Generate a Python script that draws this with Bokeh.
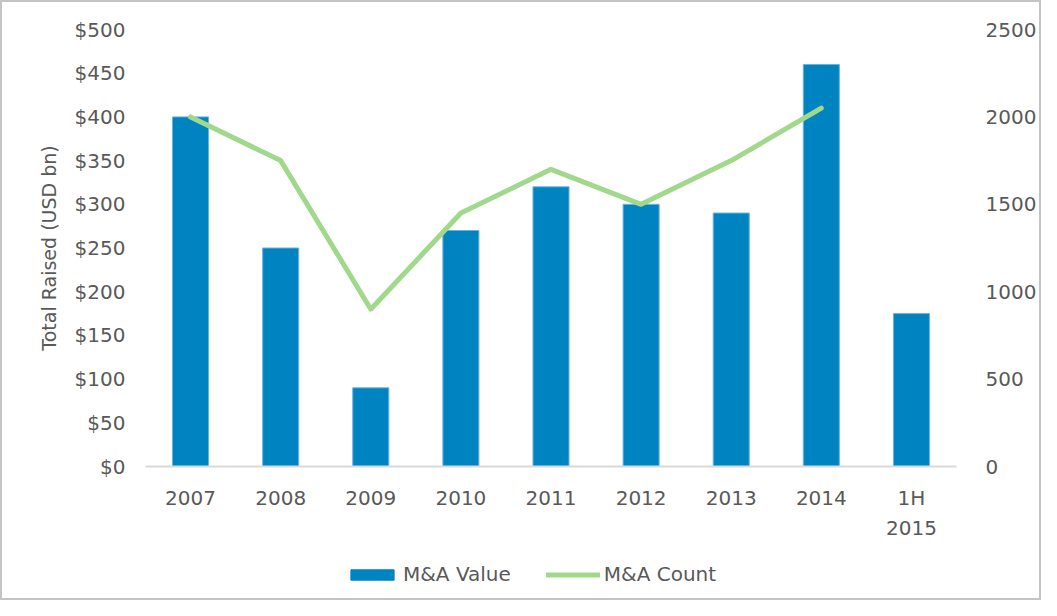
from bokeh.plotting import figure
from bokeh.models import (FactorRange, Range1d, LinearAxis, FixedTicker,
                          NumeralTickFormatter, Legend, LegendItem)
from bokeh.layouts import column
from bokeh.embed import file_html
from bokeh.resources import INLINE

categories = ["2007", "2008", "2009", "2010", "2011", "2012", "2013", "2014", "1H\n2015"]
ma_value = [400, 250, 90, 270, 320, 300, 290, 460, 175]
count_years = ["2007", "2008", "2009", "2010", "2011", "2012", "2013", "2014"]
ma_count = [2000, 1750, 900, 1450, 1700, 1500, 1750, 2050]
left_ticks = [0, 50, 100, 150, 200, 250, 300, 350, 400, 450, 500]
right_ticks = [0, 500, 1000, 1500, 2000, 2500]

FONT = "DejaVu Sans"
TXT = "#595959"
BAR = "#0083c1"
LINE = "#a0d98b"
NAN = float("nan")

p = figure(x_range=FactorRange(*categories, range_padding=0), y_range=Range1d(0, 500),
           width=1037, height=540, output_backend="svg", toolbar_location=None,
           min_border_left=143, min_border_right=72, min_border_top=27, min_border_bottom=75)
p.outline_line_color = None
p.xgrid.grid_line_color = None
p.ygrid.grid_line_color = None

bars = p.vbar(x=categories, top=ma_value, width=0.4, fill_color=BAR,
              line_color="#6ab4dc", line_width=1)

p.extra_y_ranges = {"count": Range1d(0, 2500)}
line = p.line(x=count_years, y=ma_count, y_range_name="count", line_color=LINE,
              line_width=5, line_cap="round", line_join="round")

ax = p.yaxis[0]
ax.ticker = FixedTicker(ticks=left_ticks)
ax.formatter = NumeralTickFormatter(format="$0")
ax.axis_line_color = None
ax.major_tick_line_color = None
ax.minor_tick_line_color = None
ax.major_label_text_font = FONT
ax.major_label_text_font_size = "20px"
ax.major_label_text_color = TXT
ax.major_label_standoff = 14
ax.axis_label = "Total Raised (USD bn)"
ax.axis_label_text_font = FONT
ax.axis_label_text_font_size = "19px"
ax.axis_label_text_font_style = "normal"
ax.axis_label_text_color = TXT
ax.axis_label_standoff = 12

rax = LinearAxis(y_range_name="count", ticker=FixedTicker(ticks=right_ticks))
rax.axis_line_color = None
rax.major_tick_line_color = None
rax.minor_tick_line_color = None
rax.major_label_text_font = FONT
rax.major_label_text_font_size = "20px"
rax.major_label_text_color = TXT
rax.major_label_standoff = 23
p.add_layout(rax, "right")

xa = p.xaxis[0]
xa.axis_line_color = "#d9d9d9"
xa.axis_line_width = 2
xa.major_tick_line_color = None
xa.minor_tick_line_color = None
xa.major_label_text_font = FONT
xa.major_label_text_font_size = "20px"
xa.major_label_text_color = TXT
xa.major_label_text_line_height = 1.25
xa.major_label_standoff = 13

# legend strip (swatch renderers hold no drawable data; only their legend glyphs show)
lg = figure(width=1037, height=56, output_backend="svg", toolbar_location=None,
            x_range=Range1d(0, 1), y_range=Range1d(0, 1),
            x_axis_location=None, y_axis_location=None, min_border=0)
lg.outline_line_color = None
lg.xgrid.grid_line_color = None
lg.ygrid.grid_line_color = None
r1 = lg.vbar(x=[NAN], top=[NAN], width=0.4, fill_color=BAR, line_color=BAR)
r2 = lg.line(x=[NAN, NAN], y=[NAN, NAN], line_color=LINE, line_width=5, line_cap="round")
legend = Legend(items=[LegendItem(label="M&A Value", renderers=[r1]),
                       LegendItem(label="M&A Count", renderers=[r2])],
                orientation="horizontal", location=(200, 12),
                label_text_font=FONT, label_text_font_size="20px", label_text_color=TXT,
                glyph_width=54, glyph_height=13, spacing=35, label_standoff=4,
                border_line_color=None, background_fill_alpha=0, margin=0, padding=0)
lg.add_layout(legend, "center")

layout = column(p, lg, spacing=0)
layout.styles = {"border": "2px solid #c4c4c4"}

open("out.html", "w").write(file_html(layout, INLINE))
